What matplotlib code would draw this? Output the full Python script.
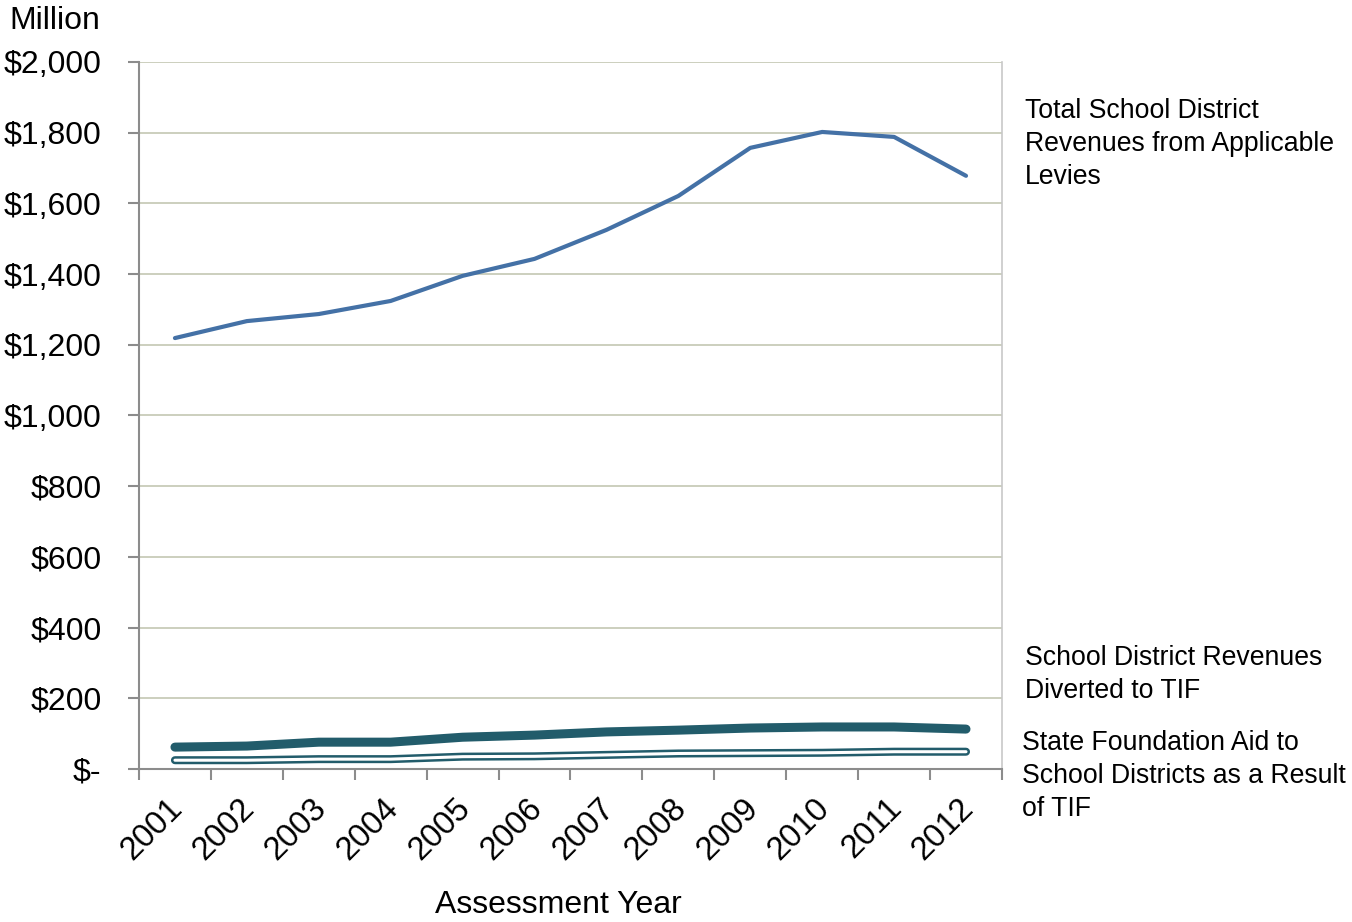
import matplotlib
matplotlib.use("Agg")
import matplotlib.pyplot as plt
import matplotlib.patheffects as pe
import matplotlib.transforms as mtransforms
import numpy as np

plt.rcParams['font.family'] = ['Liberation Sans', 'DejaVu Sans']

years = ["2001", "2002", "2003", "2004", "2005", "2006",
         "2007", "2008", "2009", "2010", "2011", "2012"]
total_revenues = [1219, 1267, 1287, 1324, 1395, 1443, 1525, 1621, 1757, 1802, 1788, 1678]
diverted_to_tif = [62, 65, 76, 76, 90, 96, 105, 110, 116, 119, 119, 113]
state_aid = [25, 25, 28, 28, 35, 36, 40, 44, 45, 46, 49, 49]
y_ticks = [0, 200, 400, 600, 800, 1000, 1200, 1400, 1600, 1800, 2000]
y_tick_labels = ["$-", "$200", "$400", "$600", "$800", "$1,000", "$1,200",
                 "$1,400", "$1,600", "$1,800", "$2,000"]

blue = "#4471a6"
teal = "#225c6b"
grid_col = "#c3c7b3"
axis_col = "#8c8c8c"

fig = plt.figure(figsize=(13.52, 9.22), dpi=100)
ax = fig.add_axes([0.1028, 0.1659, 0.6383, 0.7669])

x = np.arange(len(years))

ax.plot(x, total_revenues, color=blue, lw=3.0, solid_capstyle='round',
        solid_joinstyle='round', zorder=3)
ax.plot(x, diverted_to_tif, color=teal, lw=6.5, solid_capstyle='round',
        solid_joinstyle='round', zorder=3)
# outlined line: dark stroke with a white core
ax.plot(x, state_aid, color="white", lw=2.2, solid_capstyle='round',
        solid_joinstyle='round', zorder=3,
        path_effects=[pe.Stroke(linewidth=5.8, foreground=teal), pe.Normal()])

ax.set_xlim(-0.5, len(years) - 0.5)
ax.set_ylim(0, 2000)

ax.set_yticks(y_ticks)
ax.set_yticklabels(y_tick_labels, fontsize=23)
ax.set_xticks(np.arange(-0.5, len(years), 1.0), minor=False)
ax.set_xticklabels([])
ax.set_xticks(x, minor=True)
ax.set_xticklabels(years, minor=True, rotation=45, ha='right', va='top',
                   rotation_mode='anchor', fontsize=23.5)

ax.tick_params(axis='x', which='major', length=8, width=1.5, color=axis_col,
               direction='out')
ax.tick_params(axis='x', which='minor', length=0, pad=17)
ax.tick_params(axis='y', length=8, width=1.5, color=axis_col, direction='out',
               pad=19)
for lab in ax.get_xticklabels(minor=True):
    lab.set_transform(lab.get_transform() +
                      mtransforms.ScaledTranslation(-0.08, 0, fig.dpi_scale_trans))

for v in y_ticks[1:]:
    ax.axhline(v, color=grid_col, lw=1.2, zorder=1)

ax.spines['top'].set_visible(False)
ax.spines['left'].set_color(axis_col)
ax.spines['left'].set_linewidth(1.5)
ax.spines['bottom'].set_color(axis_col)
ax.spines['bottom'].set_linewidth(1.5)
ax.spines['right'].set_color("#c8c8c8")
ax.spines['right'].set_linewidth(1.2)

fig.text(0.007, 0.993, "Million", fontsize=23, ha='left', va='top')
fig.text(0.413, 0.002, "Assessment Year", fontsize=23, ha='center', va='bottom')

fig.text(0.758, 0.894, "Total School District\nRevenues from Applicable\nLevies",
         fontsize=19.2, ha='left', va='top', linespacing=1.35)
fig.text(0.758, 0.300, "School District Revenues\nDiverted to TIF",
         fontsize=19.2, ha='left', va='top', linespacing=1.35)
fig.text(0.756, 0.208, "State Foundation Aid to\nSchool Districts as a Result\nof TIF",
         fontsize=19.2, ha='left', va='top', linespacing=1.35)

fig.savefig("out.png", dpi=100, facecolor="white")
